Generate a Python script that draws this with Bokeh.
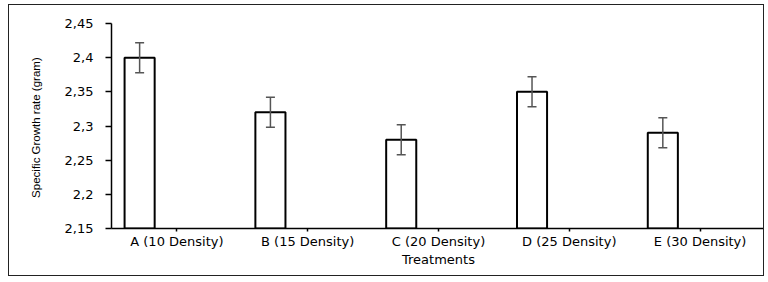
from bokeh.plotting import figure
from bokeh.models import ColumnDataSource, FactorRange, Range1d, Whisker, FixedTicker, CustomJSTickFormatter, TeeHead
from bokeh.transform import dodge
from bokeh.embed import file_html
from bokeh.resources import INLINE

treatments = ["A (10 Density)", "B (15 Density)", "C (20 Density)", "D (25 Density)", "E (30 Density)"]
growth_rate = [2.40, 2.32, 2.28, 2.35, 2.29]
std_error = [0.022, 0.022, 0.022, 0.022, 0.022]
y_ticks = [2.15, 2.2, 2.25, 2.3, 2.35, 2.4, 2.45]
y_min, y_max = 2.15, 2.45

source = ColumnDataSource(dict(
    cat=treatments,
    val=growth_rate,
    upper=[v + e for v, e in zip(growth_rate, std_error)],
    lower=[v - e for v, e in zip(growth_rate, std_error)],
))

p = figure(
    x_range=FactorRange(factors=treatments, range_padding=0),
    y_range=Range1d(y_min, y_max),
    width=756, height=272,
    output_backend="svg", toolbar_location=None,
    min_border_left=102, min_border_right=0, min_border_top=18, min_border_bottom=49,
    styles={"border": "1.5px solid #222", "margin-left": "8px", "margin-top": "4px"},
)
p.outline_line_color = None
p.xgrid.grid_line_color = None
p.ygrid.grid_line_color = None

xpos = dodge("cat", -0.285, range=p.x_range)
p.vbar(x=xpos, top="val", bottom=y_min, width=0.23, source=source,
       fill_color="white", line_color="black", line_width=2)

w = Whisker(base=xpos, upper="upper", lower="lower", source=source, level="overlay",
            line_color="#555555", line_width=1.5,
            upper_head=TeeHead(size=9, line_color="#555555", line_width=1.5),
            lower_head=TeeHead(size=9, line_color="#555555", line_width=1.5))
p.add_layout(w)

font = "DejaVu Sans"

p.yaxis.ticker = FixedTicker(ticks=y_ticks)
p.yaxis.formatter = CustomJSTickFormatter(code="""
let s = tick.toFixed(2);
if (s.endsWith('0')) s = s.slice(0, -1);
return s.replace('.', ',');
""")
p.yaxis.axis_label = "Specific Growth rate  (gram)"
p.yaxis.axis_label_text_font = "Liberation Sans"
p.yaxis.axis_label_text_font_size = "11.5px"
p.yaxis.axis_label_text_font_style = "normal"
p.yaxis.axis_label_standoff = 20
p.yaxis.major_label_text_font = font
p.yaxis.major_label_text_font_size = "13px"
p.yaxis.major_label_standoff = 12
p.yaxis.major_tick_out = 6
p.yaxis.major_tick_in = 0
p.yaxis.minor_tick_out = 0
p.yaxis.minor_tick_in = 0

p.xaxis.axis_label = "Treatments"
p.xaxis.axis_label_text_font = font
p.xaxis.axis_label_text_font_size = "13px"
p.xaxis.axis_label_text_font_style = "normal"
p.xaxis.axis_label_standoff = 0
p.xaxis.major_label_text_font = font
p.xaxis.major_label_text_font_size = "13px"
p.xaxis.major_label_standoff = 2
p.xaxis.major_tick_out = 3
p.xaxis.major_tick_in = 0

for ax in (p.xaxis, p.yaxis):
    ax.axis_line_color = "black"
    ax.axis_line_width = 1.5
    ax.major_tick_line_color = "black"
    ax.major_tick_line_width = 1.5
    ax.major_label_text_color = "black"
    ax.axis_label_text_color = "black"

open("out.html", "w").write(file_html(p, INLINE))
